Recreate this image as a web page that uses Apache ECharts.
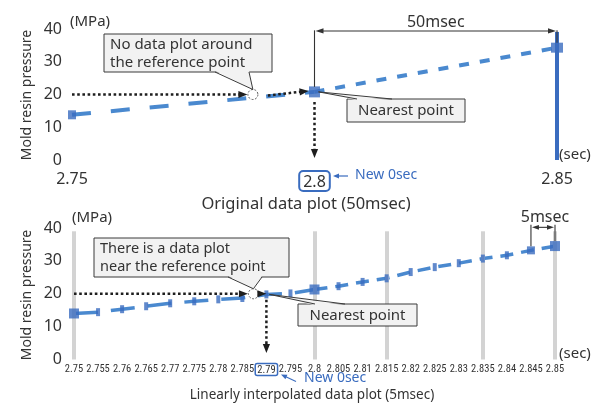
<!DOCTYPE html>
<html>
<head>
<meta charset="utf-8">
<script src="https://cdn.jsdelivr.net/npm/echarts@6/dist/echarts.min.js"></script>
<style>
  html, body { margin: 0; padding: 0; background: #fff; }
  #chart { width: 595px; height: 405px; }
</style>
</head>
<body>
<div id="chart"></div>
<script>
// Mold resin pressure samples, original 50 ms logging
const originalTimes = [2.75, 2.8, 2.85];
const originalPressure = [13.8, 20.8, 34.3];
const originalTicks = [2.75, 2.8, 2.85];

// Linearly interpolated pressure, 5 ms steps
const fineTimes = [2.75, 2.755, 2.76, 2.765, 2.77, 2.775, 2.78, 2.785, 2.79, 2.795, 2.8,
                   2.805, 2.81, 2.815, 2.82, 2.825, 2.83, 2.835, 2.84, 2.845, 2.85];
const finePressure = [14.0, 14.4, 15.3, 16.2, 17.1, 17.7, 18.3, 18.7, 19.8, 20.1, 21.3,
                      22.3, 23.6, 24.7, 26.6, 28.1, 29.3, 30.7, 31.7, 33.2, 34.5];

const pressureTicks = [0, 10, 20, 30, 40];

// Reference pressure and where it is crossed
const referencePressure = 20;
const referenceTime = 2.7873;
const newZeroOriginal = 2.8;
const newZeroFine = 2.79;
const guideTimes = [2.75, 2.8, 2.815, 2.835, 2.85];
const fineStepFrom = 2.845;

// ---- styles ----
const LINE = '#4a89cf';
const MARK = '#3a6cbf';
const INK = '#333333';
const DOT = '#1e1e1e';
const FONT = '"Noto Sans", "DejaVu Sans", sans-serif';
const NARROW = '"Liberation Sans Narrow", "Roboto Condensed", Roboto, sans-serif';

const pairs = (xs, ys) => xs.map((x, i) => [x, ys[i]]);
const near = (a, b) => Math.abs(a - b) < 1e-6;
const fmt = v => String(+v.toFixed(3));

const chart = echarts.init(document.getElementById('chart'), null, { renderer: 'canvas' });

const yAxisBase = (grid, margin) => ({
  gridIndex: grid, type: 'value',
  min: pressureTicks[0], max: pressureTicks[pressureTicks.length - 1],
  interval: pressureTicks[1] - pressureTicks[0],
  axisLine: { show: false }, axisTick: { show: false }, splitLine: { show: false },
  axisLabel: { fontSize: 16, color: INK, fontFamily: FONT, margin: margin }
});

const option = {
  animation: false,
  textStyle: { fontFamily: FONT },
  grid: [
    { left: 72, right: 38, top: 29, height: 131 },
    { left: 74, right: 40, top: 228, height: 131.5 }
  ],
  xAxis: [
    {
      gridIndex: 0, type: 'value',
      min: originalTicks[0], max: originalTicks[originalTicks.length - 1],
      interval: originalTicks[1] - originalTicks[0],
      axisLine: { show: false }, axisTick: { show: false }, splitLine: { show: false },
      axisLabel: {
        fontSize: 16, color: INK, fontFamily: FONT, margin: 11,
        formatter: v => near(v, newZeroOriginal) ? '{nz|' + fmt(v) + '}' : fmt(v),
        rich: {
          nz: { fontSize: 16, color: INK, fontFamily: FONT, borderColor: MARK, borderWidth: 2,
                borderRadius: 4, padding: [3, 4, 1, 4] }
        }
      }
    },
    {
      gridIndex: 1, type: 'value',
      min: fineTimes[0], max: fineTimes[fineTimes.length - 1],
      interval: 0.005,
      axisLine: { show: false }, axisTick: { show: false }, splitLine: { show: false },
      axisLabel: {
        fontSize: 10.5, color: INK, fontFamily: NARROW, margin: 4,
        formatter: v => near(v, newZeroFine) ? '{nz|' + fmt(v) + '}' : fmt(v),
        rich: {
          nz: { fontSize: 10.5, color: INK, fontFamily: NARROW, borderColor: MARK, borderWidth: 1.5,
                borderRadius: 2, padding: [1, 2, 0, 2] }
        }
      }
    }
  ],
  yAxis: [yAxisBase(0, 10), yAxisBase(1, 12)],
  series: [
    // --- original 50 ms data ---
    {
      type: 'line', xAxisIndex: 0, yAxisIndex: 0, silent: true, z: 3, clip: false,
      data: pairs(originalTimes.slice(0, 2), originalPressure.slice(0, 2)),
      symbol: 'none', lineStyle: { color: LINE, width: 4, type: [19, 20] }
    },
    {
      type: 'line', xAxisIndex: 0, yAxisIndex: 0, silent: true, z: 3, clip: false,
      data: pairs(originalTimes.slice(1), originalPressure.slice(1)),
      symbol: 'none', lineStyle: { color: LINE, width: 4, type: [10, 11] }
    },
    {
      type: 'line', xAxisIndex: 0, yAxisIndex: 0, silent: true, z: 2, data: [],
      markLine: {
        silent: true, symbol: ['none', 'none'], label: { show: false },
        lineStyle: { color: MARK, width: 4, type: 'solid' },
        data: [[{ coord: [originalTimes[2], 0] }, { coord: [originalTimes[2], 39.1] }]]
      }
    },
    {
      type: 'scatter', xAxisIndex: 0, yAxisIndex: 0, silent: true, z: 5,
      data: pairs(originalTimes, originalPressure),
      symbol: 'rect', symbolSize: (v, p) => [[8, 9], [11, 11], [12, 10]][p.dataIndex],
      itemStyle: { color: MARK }
    },
    {
      type: 'scatter', xAxisIndex: 0, yAxisIndex: 0, silent: true, z: 6,
      data: [[referenceTime, referencePressure]],
      symbol: 'circle', symbolSize: 10,
      itemStyle: { color: '#fff', borderColor: INK, borderWidth: 1, borderType: [2, 1.5] }
    },
    // --- interpolated 5 ms data ---
    {
      type: 'line', xAxisIndex: 1, yAxisIndex: 1, silent: true, z: 1, data: [],
      markLine: {
        silent: true, symbol: ['none', 'none'], label: { show: false },
        lineStyle: { color: '#d3d3d3', width: 4, type: 'solid' },
        data: guideTimes.map(t => [{ coord: [t, 0] }, { coord: [t, 39] }])
      }
    },
    {
      type: 'line', xAxisIndex: 1, yAxisIndex: 1, silent: true, z: 3, clip: false,
      data: pairs(fineTimes.slice(0, 11), finePressure.slice(0, 11)),
      symbol: 'none', lineStyle: { color: LINE, width: 3.5, type: [24, 13] }
    },
    {
      type: 'line', xAxisIndex: 1, yAxisIndex: 1, silent: true, z: 3, clip: false,
      data: pairs(fineTimes.slice(10), finePressure.slice(10)),
      symbol: 'none', lineStyle: { color: LINE, width: 3.5, type: [13, 8] }
    },
    {
      type: 'scatter', xAxisIndex: 1, yAxisIndex: 1, silent: true, z: 5,
      data: pairs(fineTimes, finePressure),
      symbol: 'rect',
      symbolSize: v => originalTimes.some(t => near(t, v[0])) ? [10, 10]
                      : near(v[0], fineStepFrom) ? [8, 8] : [4, 8],
      itemStyle: { color: MARK }
    },
    {
      type: 'scatter', xAxisIndex: 1, yAxisIndex: 1, silent: true, z: 6,
      data: [[referenceTime, referencePressure]],
      symbol: 'circle', symbolSize: 10,
      itemStyle: { color: '#fff', borderColor: INK, borderWidth: 1, borderType: [2, 1.5] }
    }
  ]
};

chart.setOption(option);

// ---- annotations (callouts, arrows, dimension marks) ----
const P0 = (x, y) => chart.convertToPixel({ gridIndex: 0 }, [x, y]);
const P1 = (x, y) => chart.convertToPixel({ gridIndex: 1 }, [x, y]);
const Z = 100;
const dotted = { stroke: DOT, lineWidth: 2.5, lineDash: [2.6, 2.6] };
const thin = { stroke: INK, lineWidth: 1.1 };

function head(tip, from, len, half, color) {
  const dx = tip[0] - from[0], dy = tip[1] - from[1], d = Math.hypot(dx, dy);
  const ux = dx / d, uy = dy / d;
  const bx = tip[0] - ux * len, by = tip[1] - uy * len;
  return { type: 'polygon', z: Z, silent: true,
    shape: { points: [[tip[0], tip[1]], [bx - uy * half, by + ux * half], [bx + uy * half, by - ux * half]] },
    style: { fill: color } };
}
function seg(a, b, style) {
  return { type: 'line', z: Z, silent: true,
    shape: { x1: a[0], y1: a[1], x2: b[0], y2: b[1] }, style: Object.assign({ fill: null }, style) };
}
function arrow(a, b, style, len, half) {
  const dx = b[0] - a[0], dy = b[1] - a[1], d = Math.hypot(dx, dy);
  const e = [b[0] - dx / d * len * 0.7, b[1] - dy / d * len * 0.7];
  return [seg(a, e, style), head(b, a, len, half, style.stroke)];
}
function text(str, x, y, size, opts) {
  return Object.assign({ type: 'text', z: Z, silent: true, x: x, y: y,
    style: Object.assign({ text: str, fill: INK, fontSize: size, fontFamily: FONT,
      align: 'left', verticalAlign: 'middle' }, (opts && opts.style) || {}) },
    opts && opts.rotation !== undefined ? { rotation: opts.rotation } : {});
}
function callout(box, lines, tip, base, size, center) {
  const [x, y, w, h] = box;
  const out = [{ type: 'rect', z: Z, silent: true, shape: { x: x, y: y, width: w, height: h },
                 style: { fill: '#f2f2f2', stroke: '#3a3a3a', lineWidth: 1 } }];
  const by = base[2];
  const inset = by > y + h / 2 ? -1.2 : 1.2;
  out.push({ type: 'polygon', z: Z, silent: true,
    shape: { points: [[base[0], by + inset], tip, [base[1], by + inset]] }, style: { fill: '#f2f2f2' } });
  out.push({ type: 'polyline', z: Z, silent: true,
    shape: { points: [[base[0], by], tip, [base[1], by]] },
    style: { stroke: '#3a3a3a', lineWidth: 1, fill: null } });
  const lh = h / (lines.length + 0.1);
  lines.forEach((s, i) => {
    const ty = y + h / 2 + (i - (lines.length - 1) / 2) * (lines.length > 1 ? 18 : 0);
    out.push(center ? text(s, x + w / 2, ty + 0.5, size, { style: { align: 'center' } })
                    : text(s, x + 6, ty + 0.5, size));
  });
  return out;
}

const g = [];
// Axis captions
g.push(text('Mold resin pressure', 27, 95, 14, { rotation: Math.PI / 2, style: { align: 'center' } }));
g.push(text('Mold resin pressure', 27, 295, 14, { rotation: Math.PI / 2, style: { align: 'center' } }));
g.push(text('(MPa)', 70, 22, 15));
g.push(text('(MPa)', 72, 218, 15));
g.push(text('(sec)', 559, 155, 15));
g.push(text('(sec)', 559, 354, 15));
g.push(text('Original data plot (50msec)', 306, 204, 16.5, { style: { align: 'center' } }));
g.push(text('Linearly interpolated data plot (5msec)', 312, 395, 13.5, { style: { align: 'center' } }));

// --- upper panel annotations ---
const refTop = P0(referenceTime, referencePressure);
g.push(...arrow(P0(originalTimes[0], referencePressure), [refTop[0] - 5.5, refTop[1]], dotted, 9, 3.6));
const nearTop = P0(newZeroOriginal, originalPressure[1]);
g.push(...arrow([refTop[0] + 15, refTop[1] + 1], [nearTop[0] - 6, nearTop[1] - 1], dotted, 9, 3.6));
g.push(...arrow([nearTop[0], nearTop[1] + 10], [nearTop[0], P0(0, 0.6)[1] + 0], dotted, 9, 3.6));

// 50 ms dimension
const endTop = P0(originalTimes[2], originalPressure[2]);
const dimY = P0(0, 39.4)[1];
g.push(seg([nearTop[0], P0(0, 39.6)[1]], [nearTop[0], nearTop[1] - 5], thin));
g.push(seg([endTop[0], P0(0, 39.6)[1]], [endTop[0], endTop[1] - 5], thin));
g.push(seg([nearTop[0] + 4, dimY], [endTop[0] - 4, dimY], thin));
g.push(head([nearTop[0] + 1, dimY], [endTop[0], dimY], 8, 2.6, INK));
g.push(head([endTop[0] - 1, dimY], [nearTop[0], dimY], 8, 2.6, INK));
g.push(text('50msec', (nearTop[0] + endTop[0]) / 2, 22, 16, { style: { align: 'center' } }));

g.push(...callout([104, 34, 168, 38], ['No data plot around', 'the reference point'],
                  [refTop[0], refTop[1] - 5], [215, 249, 72], 15, false));
g.push(...callout([347, 99, 118, 23], ['Nearest point'],
                  [nearTop[0] + 4, nearTop[1]], [357, 392, 99], 15, true));

// New zero marker (upper)
g.push(...arrow([348, 176], [333, 176], { stroke: MARK, lineWidth: 1.2 }, 6, 2.4));
g.push(text('New 0sec', 355, 175.5, 14, { style: { fill: MARK } }));

// --- lower panel annotations ---
const refLow = P1(referenceTime, referencePressure);
const fineZeroIdx = fineTimes.findIndex(t => near(t, newZeroFine));
const nearLow = P1(newZeroFine, finePressure[fineZeroIdx]);
g.push(...arrow(P1(fineTimes[0], referencePressure), [refLow[0] - 5.5, refLow[1]], dotted, 9, 3.6));
g.push(head([nearLow[0], refLow[1]], [refLow[0], refLow[1]], 9, 3.6, DOT));
g.push(...arrow([nearLow[0], refLow[1] + 6], [nearLow[0], P1(0, 2.0)[1]], dotted, 9, 3.6));

// 5 ms dimension
const stepLow = P1(fineStepFrom, finePressure[fineTimes.length - 2]);
const endLow = P1(fineTimes[fineTimes.length - 1], finePressure[fineTimes.length - 1]);
const dimLowY = P1(0, 40.2)[1];
g.push(seg([stepLow[0], P1(0, 41)[1]], [stepLow[0], stepLow[1] - 4], thin));
g.push(seg([endLow[0], P1(0, 41)[1]], [endLow[0], endLow[1] - 5], thin));
g.push(seg([stepLow[0] + 4, dimLowY], [endLow[0] - 4, dimLowY], thin));
g.push(head([stepLow[0] + 1, dimLowY], [endLow[0], dimLowY], 7, 2.4, INK));
g.push(head([endLow[0] - 1, dimLowY], [stepLow[0], dimLowY], 7, 2.4, INK));
g.push(text('5msec', (stepLow[0] + endLow[0]) / 2 + 2, 217, 16, { style: { align: 'center' } }));

g.push(...callout([94, 238, 195, 39], ['There is a data plot', 'near the reference point'],
                  [refLow[0], refLow[1] - 5], [228, 262, 277], 14.5, false));
g.push(...callout([298, 304, 119, 22], ['Nearest point'],
                  [nearLow[0] + 3, nearLow[1]], [315, 345, 304], 15, true));

// New zero marker (lower)
g.push(...arrow([296, 381.5], [281, 374.5], { stroke: MARK, lineWidth: 1.1 }, 6, 2.4));
g.push(text('New 0sec', 304, 378.5, 14, { style: { fill: MARK } }));

chart.setOption({ graphic: { elements: g } });
</script>
</body>
</html>
